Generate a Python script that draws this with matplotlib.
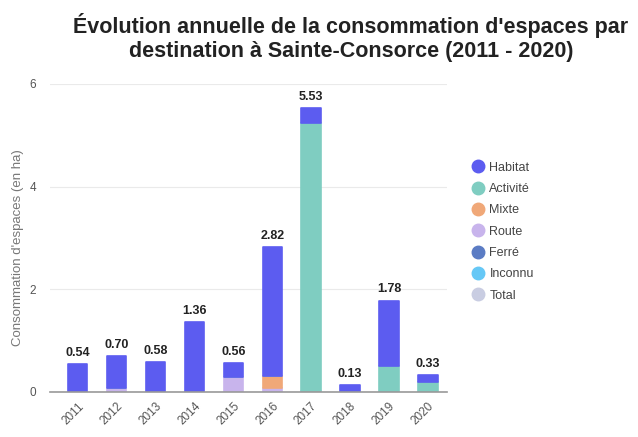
import numpy as np
import matplotlib.pyplot as plt
from matplotlib.lines import Line2D

plt.rcParams['font.family'] = ['Liberation Sans', 'DejaVu Sans']

years = ["2011", "2012", "2013", "2014", "2015", "2016", "2017", "2018", "2019", "2020"]
habitat = [0.54, 0.62, 0.58, 1.36, 0.27, 2.50, 0.29, 0.13, 1.28, 0.14]
activite = [0.00, 0.00, 0.00, 0.00, 0.00, 0.00, 5.22, 0.00, 0.50, 0.19]
mixte = [0.00, 0.00, 0.00, 0.00, 0.00, 0.24, 0.00, 0.00, 0.00, 0.00]
route = [0.00, 0.08, 0.00, 0.00, 0.29, 0.08, 0.02, 0.00, 0.00, 0.00]
totals = [0.54, 0.70, 0.58, 1.36, 0.56, 2.82, 5.53, 0.13, 1.78, 0.33]

legend_names = ["Habitat", "Activité", "Mixte", "Route", "Ferré", "Inconnu", "Total"]
colors = {
    "Habitat": "#5c5cf0",
    "Activité": "#7fcdc1",
    "Mixte": "#f0a878",
    "Route": "#c8b4ec",
    "Ferré": "#5b7cc4",
    "Inconnu": "#66c8f6",
    "Total": "#c9cde2",
}

fig = plt.figure(figsize=(6.38, 4.37), dpi=100)
ax = fig.add_axes([0.078, 0.103, 0.623, 0.705])

x = np.arange(len(years))
w = 0.5
bottom = np.zeros(len(years))
# stack from the ground up: road, mixed, activity, housing on top
for name, vals in [("Route", route), ("Mixte", mixte), ("Activité", activite), ("Habitat", habitat)]:
    vals = np.array(vals)
    ax.bar(x, vals, w, bottom=bottom, color=colors[name], edgecolor=colors[name],
           linewidth=1.2, joinstyle='round', zorder=3)
    bottom += vals

for xi, t in zip(x, totals):
    ax.text(xi, t + 0.1, f"{t:.2f}", ha='center', va='bottom', fontsize=9,
            fontweight='bold', color='#222222')

ax.set_xlim(-0.72, 9.5)
ax.set_ylim(0, 6)
ax.set_yticks([0, 2, 4, 6])
ax.set_xticks(x)
ax.set_xticklabels(years, rotation=45, ha='right', rotation_mode='anchor')
ax.tick_params(axis='both', length=0, labelsize=8.5, colors='#555555')
ax.tick_params(axis='y', pad=10)
ax.tick_params(axis='x', pad=6)
ax.grid(axis='y', color='#eaeaea', linewidth=0.8, zorder=0)
for s in ['top', 'right', 'left']:
    ax.spines[s].set_visible(False)
ax.spines['bottom'].set_color('#999999')
ax.spines['bottom'].set_linewidth(1.2)
ax.spines['bottom'].set_zorder(4)
ax.set_ylabel("Consommation d'espaces (en ha)", fontsize=9.5, color='#777777')
ax.yaxis.set_label_coords(-0.065, 0.47)

fig.text(0.55, 0.97, "Évolution annuelle de la consommation d'espaces par\ndestination à Sainte-Consorce (2011 - 2020)",
         ha='center', va='top', fontsize=15.5, fontweight='bold', color='#222222', linespacing=1.15)

handles = [Line2D([], [], linestyle='none', marker='o', markersize=9,
                  markerfacecolor=colors[n], markeredgecolor=colors[n]) for n in legend_names]
fig.legend(handles, legend_names, loc='upper left', bbox_to_anchor=(0.722, 0.656),
           frameon=False, fontsize=9, labelcolor='#444444', handletextpad=0.4,
           labelspacing=0.75, handlelength=1.0)

plt.savefig("out.png")
